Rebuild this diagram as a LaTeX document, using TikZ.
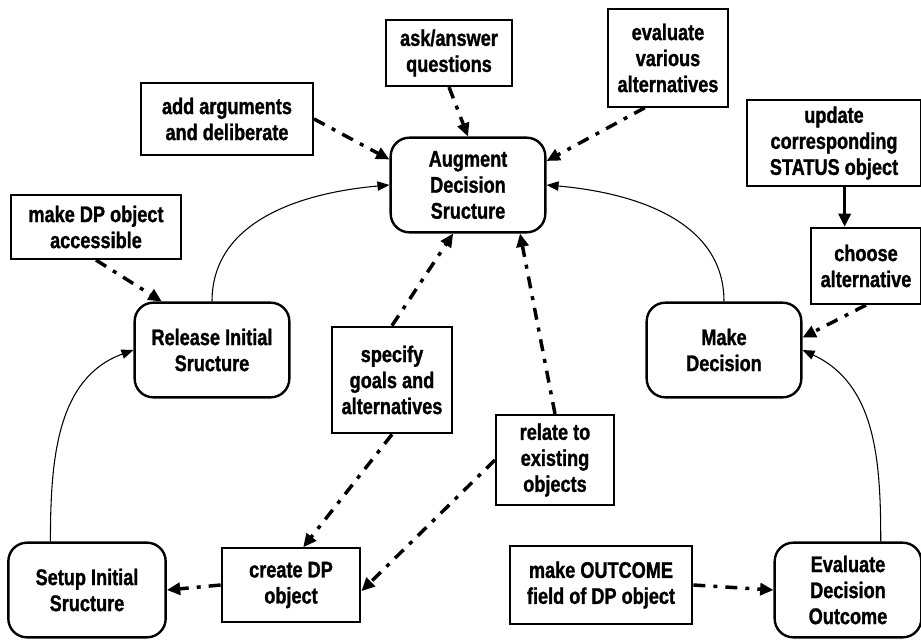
\documentclass[tikz,border=0pt]{standalone}
\usepackage{fontspec}
\setmainfont{Liberation Sans}[FakeStretch=0.8, BoldFeatures={FakeBold=1.2}]
\usetikzlibrary{arrows.meta}

\tikzset{
  stage/.style={draw, line width=1.8pt, rounded corners=14pt, align=center,
    minimum width=116pt, minimum height=71pt, inner sep=2pt},
  task/.style={draw, line width=1.6pt, align=center, inner sep=2pt},
  flow/.style={line width=0.8pt, -{Triangle[length=9pt,width=7pt]}},
  act/.style={line width=2.6pt, dash pattern=on 9pt off 6pt on 3pt off 6pt,
    -{Triangle[length=10pt,width=9pt]}},
  push/.style={line width=2.6pt, -{Triangle[length=10pt,width=9pt]}},
}

\begin{document}
\begin{tikzpicture}[x=0.75pt, y=-0.75pt, font=\fontsize{17}{19.5}\selectfont\bfseries]
\useasboundingbox (0,0) rectangle (921,640);

% main stages
\node[stage] (aug) at (468,185) {Augment\\Decision\\Sructure};
\node[stage] (release) at (212,350) {Release Initial\\Sructure};
\node[stage] (decision) at (724,350) {Make\\Decision};
\node[stage, minimum width=118pt] (setup) at (87,590) {Setup Initial\\Sructure};
\node[stage, minimum width=110pt] (evaluate) at (848,590) {Evaluate\\Decision\\Outcome};

% activities
\node[task, minimum width=94.5pt, minimum height=49.5pt] (ask) at (449,53) {ask/answer\\questions};
\node[task, minimum width=90pt, minimum height=73pt] (various) at (668,58) {evaluate\\various\\alternatives};
\node[task, minimum width=129pt, minimum height=54pt] (addarg) at (227,119) {add arguments\\and deliberate};
\node[task, minimum width=130pt, minimum height=65pt] (update) at (834,143) {update\\corresponding\\STATUS object};
\node[task, minimum width=83pt, minimum height=57pt] (choose) at (866,266) {choose\\alternative};
\node[task, minimum width=127pt, minimum height=48pt] (access) at (96,227) {make DP object\\accessible};
\node[task, minimum width=90pt, minimum height=80pt] (specify) at (392,380) {specify\\goals and\\alternatives};
\node[task, minimum width=88.5pt, minimum height=67.5pt] (relate) at (555,460) {relate to\\existing\\objects};
\node[task, minimum width=104pt, minimum height=55pt] (create) at (291,585) {create DP\\object};
\node[task, minimum width=137pt, minimum height=59pt] (outcome) at (601,585) {make OUTCOME\\field of DP object};

% stage cycle
\draw[flow] (setup.127) to[out=90, in=200] (release.west);
\draw[flow] (release.north) to[out=90, in=185] (aug.west);
\draw[flow] (decision.north) to[out=90, in=-5] (aug.east);
\draw[flow] (evaluate.56) to[out=90, in=-25] (decision.east);

% activities
\draw[act] (addarg.east) -- (aug.162);
\draw[act] (ask.south) -- (aug.north);
\draw[act] (various.245) -- (aug.17);
\draw[act] (access.south) -- (release.136);
\draw[push] ([xshift=8pt]update.south) -- ([xshift=8pt]update.south |- choose.north);
\draw[act] (choose.south) -- (decision.9);
\draw[act] (specify.north) -- (aug.253);
\draw[act] (specify.south) -- (create.72);
\draw[act] (relate.north) -- (aug.317);
\draw[act] (relate.west) -- (create.-5);
\draw[act] (create.west) -- (setup.east);
\draw[act] (outcome.east) -- (evaluate.west);
\end{tikzpicture}
\end{document}
